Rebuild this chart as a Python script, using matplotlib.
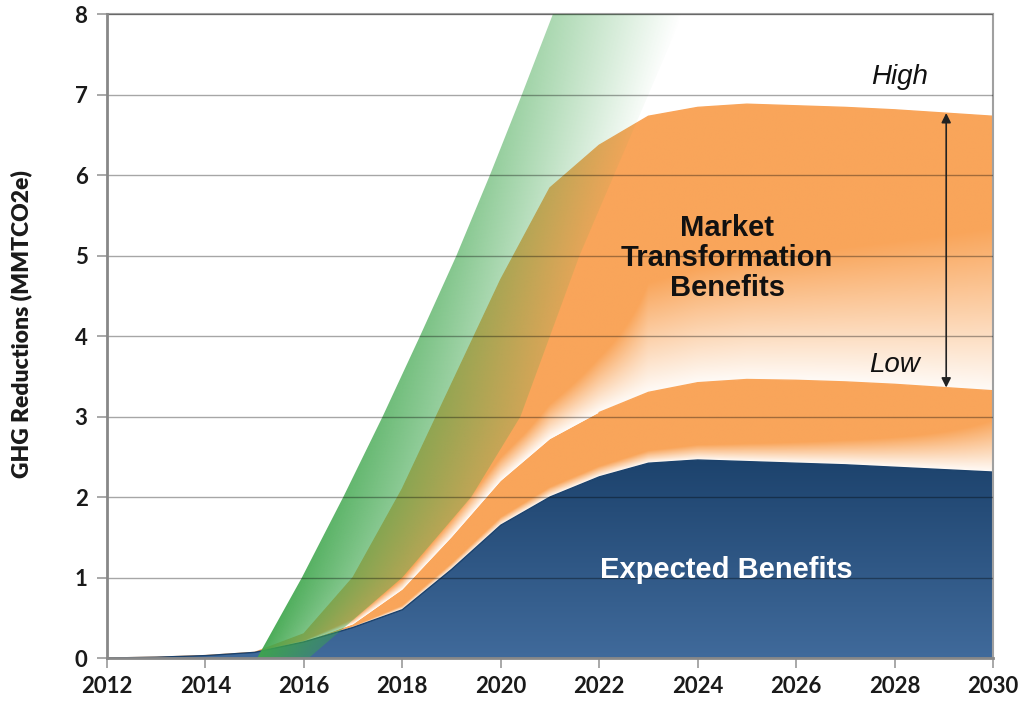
import numpy as np
import matplotlib.pyplot as plt
from matplotlib.colors import to_rgb

years = np.arange(2012, 2031)
expected = [0.0, 0.01, 0.03, 0.07, 0.2, 0.38, 0.6, 1.1, 1.65, 2.0, 2.25, 2.42, 2.46, 2.44, 2.42, 2.4, 2.37, 2.34, 2.31]
low = [0.0, 0.01, 0.03, 0.07, 0.2, 0.42, 0.85, 1.5, 2.2, 2.72, 3.05, 3.3, 3.42, 3.46, 3.45, 3.43, 3.4, 3.36, 3.32]
high = [0.0, 0.01, 0.03, 0.07, 0.3, 1.0, 2.1, 3.4, 4.7, 5.84, 6.37, 6.73, 6.84, 6.88, 6.86, 6.84, 6.81, 6.77, 6.73]

# green wedge: x of its left / right edge at each y level
wedge_y = [0, 1, 2, 3, 4, 5, 6, 7, 8]
wedge_left = [2015.05, 2015.96, 2016.8, 2017.6, 2018.36, 2019.1, 2019.78, 2020.43, 2021.06]
wedge_right = [2016.1, 2018.0, 2019.4, 2020.4, 2021.0, 2021.6, 2022.3, 2023.0, 2023.7]

xticks = list(range(2012, 2031, 2))
yticks = list(range(0, 9))

orange = np.array(to_rgb('#F9A55A'))
navy_top = np.array([28, 66, 108]) / 255
navy_bot = np.array([64, 106, 155]) / 255
green = np.array([62, 166, 76]) / 255

fig = plt.figure(figsize=(10.26, 7.01), dpi=100)
ax = fig.add_axes([0.1043, 0.0613, 0.8635, 0.9187])

gx = np.linspace(2012, 2030, 1200)
gy = np.linspace(0, 8, 800)
X, Y = np.meshgrid(gx, gy)
ext = [2012, 2030, 0, 8]


def clipped_image(rgba, poly, z):
    im = ax.imshow(rgba, extent=ext, origin='lower', aspect='auto',
                   interpolation='bilinear', zorder=z)
    im.set_clip_path(poly.get_paths()[0], ax.transData)
    return im


def band_rgba(lo, hi, knots, slopes):
    lo_g = np.interp(X, years, lo)
    hi_g = np.interp(X, years, hi)
    t = (Y - lo_g) / np.maximum(hi_g - lo_g, 1e-6)
    m = np.interp(X, knots, slopes)
    g = np.clip(0.05 + t * m, 0, 1)
    rgba = np.ones(X.shape + (4,))
    for i in range(3):
        rgba[..., i] = 1 - g * (1 - orange[i])
    return rgba


# orange bands
p_low = ax.fill_between(years, expected, low, facecolor='none', edgecolor='none')
clipped_image(band_rgba(expected, low, [2018, 2022, 2024, 2030], [5, 6, 5, 1.5]), p_low, 1)
p_high = ax.fill_between(years, low, high, facecolor='none', edgecolor='none')
clipped_image(band_rgba(low, high, [2018, 2020.5, 2023, 2030], [9, 8, 2.4, 1.6]), p_high, 1)
ax.plot(years, high, color=orange, lw=1, zorder=1.1)
ax.plot(years[10:], low[10:], color=orange, lw=1, zorder=1.1)

# expected benefits (blue)
p_blue = ax.fill_between(years, 0, expected, facecolor='none', edgecolor='none')
f = np.clip(Y / 2.5, 0, 1)[..., None]
blue = np.ones(X.shape + (4,))
blue[..., :3] = navy_bot * (1 - f) + navy_top * f
clipped_image(blue, p_blue, 2)
ax.plot(years, expected, color=navy_top, lw=1, zorder=2.1)

# green wedge
p_green = ax.fill_betweenx(wedge_y, wedge_left, wedge_right, facecolor='none', edgecolor='none')
L = np.interp(Y, wedge_y, wedge_left)
R = np.interp(Y, wedge_y, wedge_right)
s = np.clip((X - L) / (R - L), 0, 1)
gr = np.zeros(X.shape + (4,))
gr[..., :3] = green
gr[..., 3] = (0.95 - 0.065 * Y) * (1 - s * (0.5 + 0.0625 * Y))
clipped_image(gr, p_green, 3)

# grid on top, multiplied look
for yv in yticks[1:]:
    ax.axhline(yv, color='black', alpha=0.35, lw=1, zorder=4)

ax.set_xlim(2012, 2030)
ax.set_ylim(0, 8)
ax.set_xticks(xticks)
ax.set_yticks(yticks)
for sp in ['left', 'bottom']:
    ax.spines[sp].set_color('#888888')
    ax.spines[sp].set_linewidth(2)
    ax.spines[sp].set_zorder(5)
for sp in ['top', 'right']:
    ax.spines[sp].set_color('#a0a0a0')
    ax.spines[sp].set_linewidth(1.5)
ax.tick_params(direction='out', length=7, width=1.2, color='#999999', pad=7,
               labelsize=16, labelcolor='#1a1a1a')
ax.tick_params(axis='x', pad=6)
for lab in ax.get_xticklabels() + ax.get_yticklabels():
    lab.set_family('Lato')
    lab.set_fontweight('bold')
ax.set_ylabel('GHG Reductions (MMTCO2e)', family='Lato', fontweight='heavy',
              fontsize=16.5, color='#1a1a1a')
ax.yaxis.set_label_coords(-0.084, 0.519)

# range arrow between low and high in 2029
i29 = list(years).index(2029)
ax.annotate('', xy=(2029.05, high[i29]), xytext=(2029.05, low[i29]),
            arrowprops=dict(arrowstyle='<|-|>', color='#222222', lw=1.2,
                            mutation_scale=14, shrinkA=0, shrinkB=0), zorder=6)

ax.text(2028.1, 7.22, 'High', ha='center', va='center', fontsize=20, style='italic',
        family='Liberation Sans', color='#111111', zorder=6)
ax.text(2028.0, 3.64, 'Low', ha='center', va='center', fontsize=20, style='italic',
        family='Liberation Sans', color='#111111', zorder=6)
ax.text(2024.6, 4.97, 'Market\nTransformation\nBenefits', ha='center', va='center',
        fontsize=21, fontweight='bold', family='Liberation Sans', linespacing=1.1,
        color='#111111', zorder=6)
ax.text(2024.58, 1.09, 'Expected Benefits', ha='center', va='center', fontsize=21,
        fontweight='bold', family='Liberation Sans', color='white', zorder=6)

fig.savefig('out.png', dpi=100)
